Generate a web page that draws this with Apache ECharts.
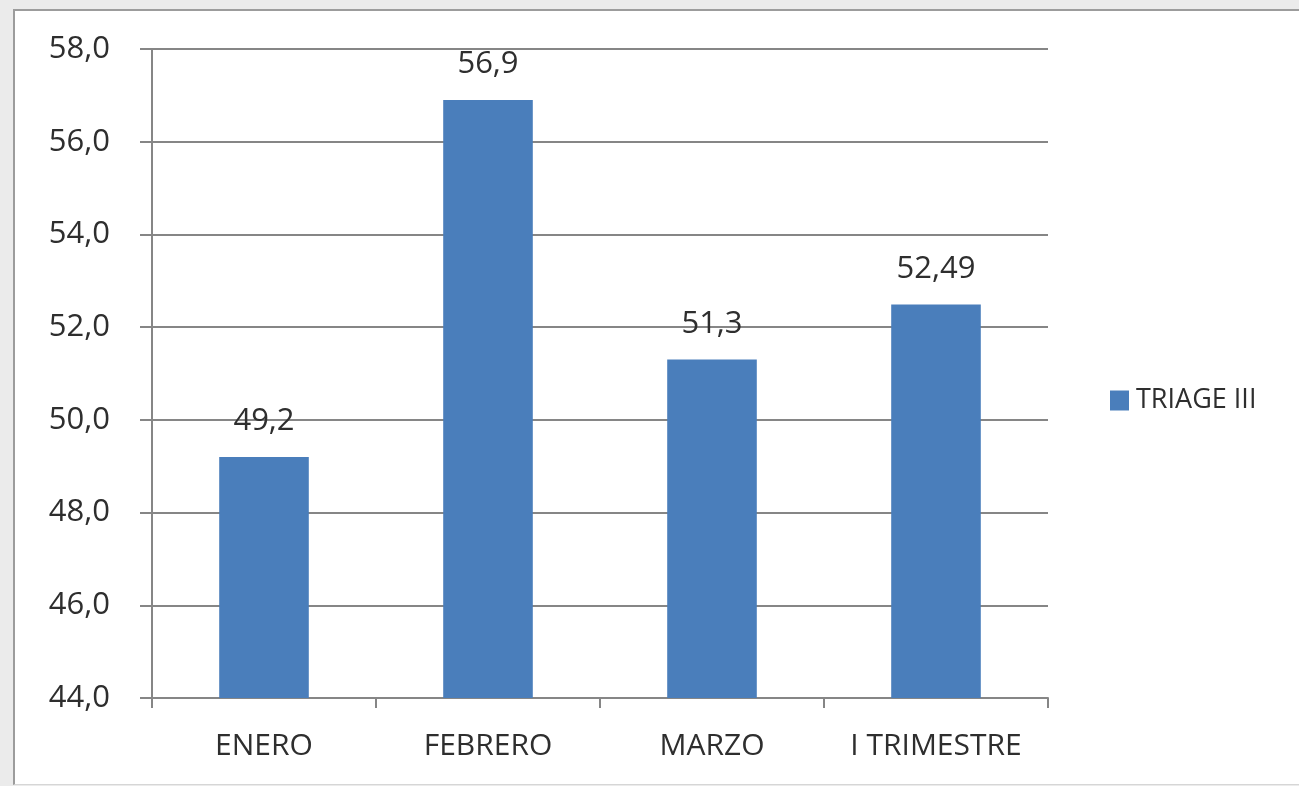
<!DOCTYPE html>
<html>
<head>
<meta charset="utf-8">
<script src="https://cdn.jsdelivr.net/npm/echarts@6/dist/echarts.min.js"></script>
<style>
html,body{margin:0;padding:0;background:#ebebeb;}
#frame{position:absolute;left:13px;top:9px;width:1290px;height:773px;background:#fff;border-left:2px solid #9c9c9c;border-top:2px solid #9c9c9c;border-bottom:1px solid #d6d6d6;}
#chart{position:absolute;left:0;top:0;width:1299px;height:786px;}
</style>
</head>
<body>
<div id="frame"></div>
<div id="chart"></div>
<script>
const categories = ['ENERO', 'FEBRERO', 'MARZO', 'I TRIMESTRE']
const triageValues = [49.2, 56.9, 51.3, 52.49]
const seriesName = 'TRIAGE III'

const font = '"Open Sans", "Noto Sans", sans-serif'
const textColor = '#2e2e2e'
const chart = echarts.init(document.getElementById('chart'))

const option = {
  animation: false,
  textStyle: {fontFamily: font},
  grid: {left: 152, right: 251, top: 49, bottom: 88},
  legend: {
    orient: 'vertical',
    left: 1105,
    top: 382,
    itemWidth: 19,
    itemHeight: 20,
    itemGap: 10,
    icon: 'rect',
    textStyle: {fontFamily: font, fontSize: 27, color: textColor, padding: [0, 0, 0, 2]},
    data: [seriesName]
  },
  xAxis: {
    type: 'category',
    data: categories,
    axisLine: {lineStyle: {color: '#868686', width: 2}},
    axisTick: {show: true, length: 10, lineStyle: {color: '#868686', width: 2}},
    axisLabel: {margin: 33, fontSize: 30, color: textColor, fontFamily: font}
  },
  yAxis: {
    type: 'value',
    min: 44,
    max: 58,
    interval: 2,
    axisLine: {show: true, lineStyle: {color: '#868686', width: 2}},
    axisTick: {show: true, length: 12, lineStyle: {color: '#868686', width: 2}},
    splitLine: {lineStyle: {color: '#868686', width: 2}},
    axisLabel: {
      margin: 42,
      fontSize: 31,
      color: textColor,
      fontFamily: font,
      formatter: v => v.toFixed(1).replace('.', ',')
    }
  },
  series: [{
    name: seriesName,
    type: 'bar',
    data: triageValues,
    barWidth: '40%',
    itemStyle: {color: '#4a7ebb'},
    label: {
      show: true,
      position: 'top',
      distance: 20,
      fontSize: 31,
      color: textColor,
      fontFamily: font,
      formatter: p => String(p.value).replace('.', ',')
    }
  }]
}
chart.setOption(option)
</script>
</body>
</html>
